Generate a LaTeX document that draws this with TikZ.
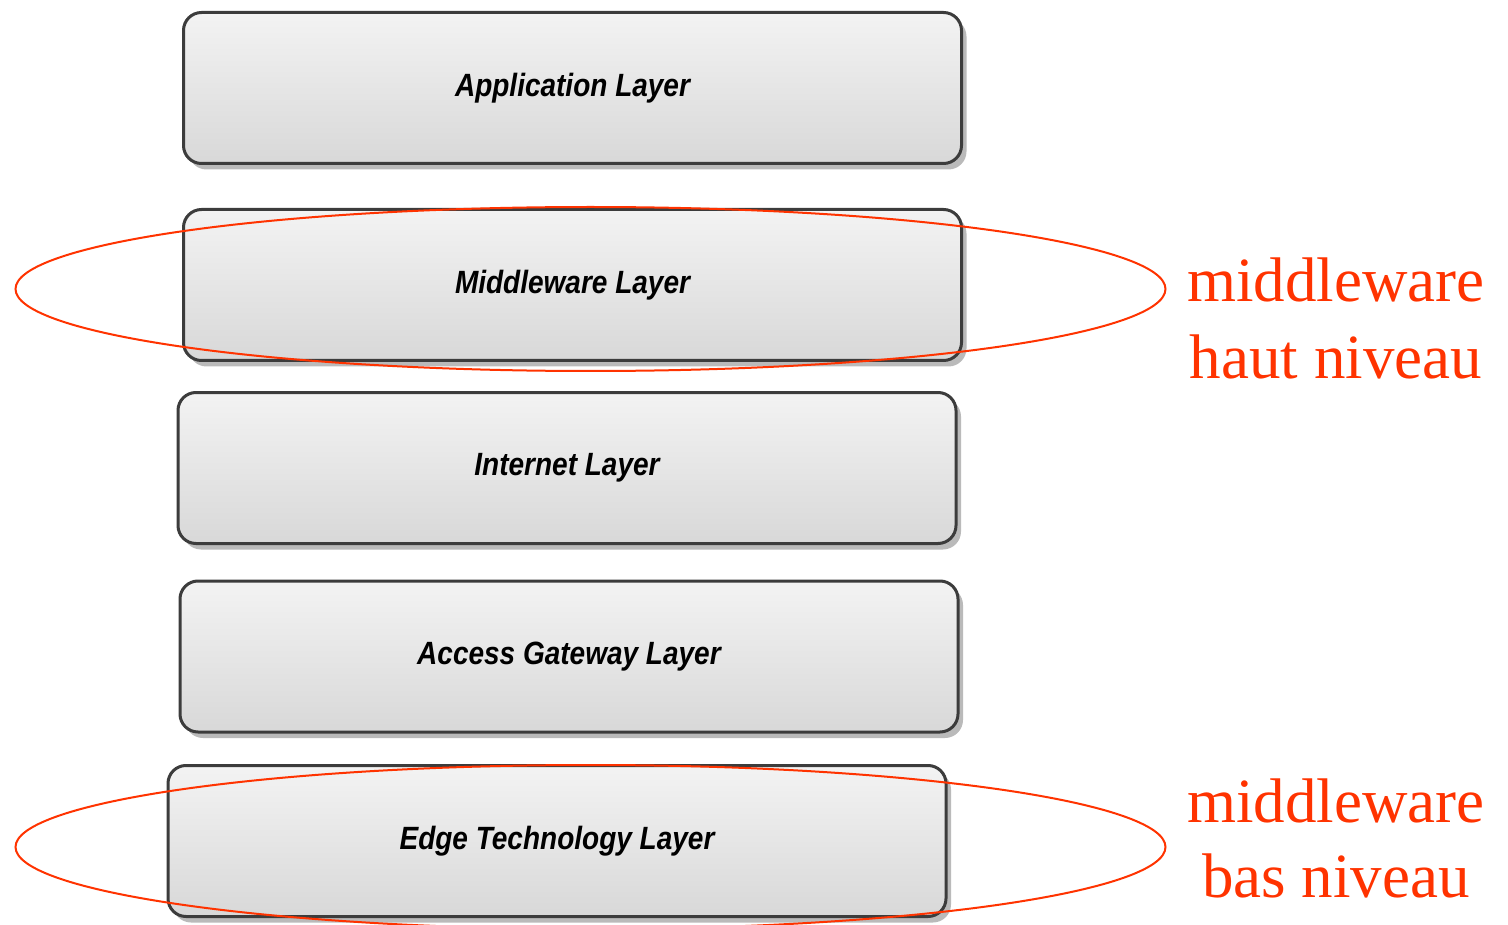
\documentclass[tikz,border=0pt]{standalone}
\usepackage{fontspec}
\usepackage{graphicx}
\setmainfont{Liberation Serif}
\newfontfamily\boxfont{Liberation Sans}
\usetikzlibrary{shapes.geometric,shadows}
\definecolor{redmark}{HTML}{FF3300}
\definecolor{boxline}{HTML}{3C3C3C}
\definecolor{boxtop}{HTML}{F3F3F3}
\definecolor{boxbot}{HTML}{D8D8D8}
\newcommand{\layertext}[1]{\scalebox{1}[1.15]{#1}}
\tikzset{
  layer/.style={draw=boxline, line width=3pt, rounded corners=18pt,
    top color=boxtop, bottom color=boxbot,
    drop shadow={shadow xshift=5pt, shadow yshift=-6pt, fill=black!45, opacity=0.6},
    minimum width=778pt, minimum height=151pt, inner sep=0pt,
    font=\boxfont\bfseries\itshape\fontsize{28}{30}\selectfont},
  ring/.style={draw=redmark, line width=2pt, ellipse, inner sep=0pt,
    minimum width=1150pt, minimum height=164pt},
  redtext/.style={text=redmark, anchor=base, inner sep=0pt,
    font=\fontsize{63}{76}\selectfont}
}
\begin{document}
\begin{tikzpicture}[x=1pt,y=-1pt]
\useasboundingbox (0,0) rectangle (1508,925);
\node[layer] (app) at (572.5,88) {\layertext{Application Layer}};
\node[layer] (mid) at (572.5,285) {\layertext{Middleware Layer}};
\node[layer] (inet) at (567,468) {\layertext{Internet Layer}};
\node[layer] (agw) at (569,656.5) {\layertext{Access Gateway Layer}};
\node[layer] (edge) at (557,841) {\layertext{Edge Technology Layer}};
\node[ring] (ringhigh) at (590.5,289) {};
\node[ring] (ringlow) at (590.5,847) {};
\node[redtext] (hightop) at (1336,302) {middleware};
\node[redtext] (highbot) at (1336,378) {haut niveau};
\node[redtext] (lowtop) at (1336,822) {middleware};
\node[redtext] (lowbot) at (1336,897) {bas niveau};
\end{tikzpicture}
\end{document}
